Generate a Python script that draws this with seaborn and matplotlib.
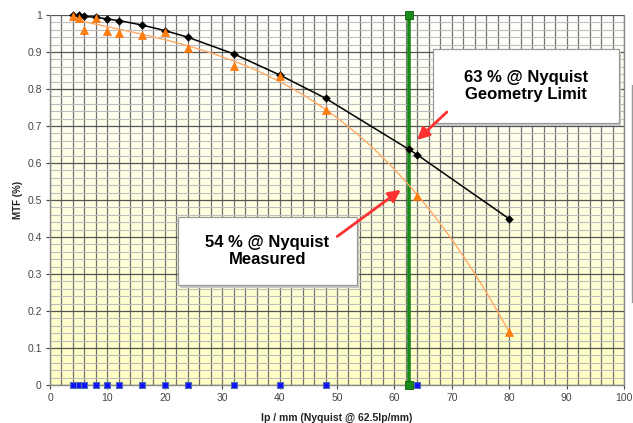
import numpy as np
import pandas as pd
import matplotlib
matplotlib.use("Agg")
import matplotlib.pyplot as plt
from matplotlib.patches import Rectangle
import seaborn as sns

# ---- data ----
geom_x = [4, 5, 6, 8, 10, 12, 16, 20, 24, 32, 40, 48, 62.5, 64, 80]
geom_y = [1.0, 1.0, 0.996, 0.994, 0.989, 0.985, 0.973, 0.958, 0.94, 0.895, 0.838, 0.775, 0.637, 0.622, 0.449]
meas_x = [4, 5, 6, 8, 10, 12, 16, 20, 24, 32, 40, 48, 64, 80]
meas_y = [0.997, 0.993, 0.96, 0.992, 0.958, 0.95, 0.946, 0.955, 0.91, 0.863, 0.835, 0.742, 0.51, 0.144]
freq_x = [4, 5, 6, 8, 10, 12, 16, 20, 24, 32, 40, 48, 64]
freq_y = [0] * len(freq_x)
nyq_x = [62.5, 62.5]
nyq_y = [0, 1]
x_ticks = list(range(0, 101, 10))
y_ticks = [0, 0.1, 0.2, 0.3, 0.4, 0.5, 0.6, 0.7, 0.8, 0.9, 1]
y_tick_labels = ["0", "0.1", "0.2", "0.3", "0.4", "0.5", "0.6", "0.7", "0.8", "0.9", "1"]
box1_text = "63 % @ Nyquist\nGeometry Limit"
box2_text = "54 % @ Nyquist\nMeasured"
x_label = "lp / mm (Nyquist @ 62.5lp/mm)"
y_label = "MTF (%)"

sns.set_theme(style="white")
plt.rcParams['font.family'] = ['Liberation Sans', 'DejaVu Sans']

fig = plt.figure(figsize=(6.33, 4.23), dpi=100)
ax = fig.add_axes([50/633, 1-385/423, (624-50)/633, (385-15)/423])

# gradient background
grad = np.linspace(0, 1, 256).reshape(-1, 1)
c_top = np.array([1.0, 1.0, 1.0])
c_bot = np.array([1.0, 1.0, 0.77])
img = c_top[None, None, :] * (1 - grad[:, :, None]) + c_bot[None, None, :] * grad[:, :, None]
ax.imshow(img, extent=[0, 100, 0, 1], aspect='auto', origin='upper', zorder=0)

# grid
for xv in np.arange(0, 101, 2):
    ax.axvline(xv, color='#727272', lw=0.9, zorder=1)
for yv in np.arange(0, 1.001, 0.02):
    major = abs(round(yv * 10) - yv * 10) < 1e-6
    ax.axhline(yv, color='#555555' if major else '#bdbdbd', lw=0.9 if major else 0.8, zorder=1)

# Nyquist line
ax.plot(nyq_x, nyq_y, color='#1a8a1a', lw=2.6, zorder=3)
sns.scatterplot(x=nyq_x, y=nyq_y, marker='s', s=28, color='#1a8a1a', edgecolor='#0b5e0b',
                linewidth=0.6, ax=ax, zorder=4, clip_on=False)

# measured trendline (polynomial fit of measured points)
coef = np.polyfit(meas_x, meas_y, 3)
tx = np.linspace(5, 80, 200)
ax.plot(tx, np.polyval(coef, tx), color='#ffaa66', lw=1.0, zorder=3)

# geometry series
geo_df = pd.DataFrame({"x": geom_x, "y": geom_y})
sns.lineplot(data=geo_df, x="x", y="y", color='black', lw=1.1, sort=False, ax=ax, zorder=5)
sns.scatterplot(data=geo_df, x="x", y="y", marker='D', s=16, color='black', edgecolor='black',
                ax=ax, zorder=6, clip_on=False)

# measured points
meas_df = pd.DataFrame({"x": meas_x, "y": meas_y})
sns.scatterplot(data=meas_df, x="x", y="y", marker='^', s=34, color='#ff7f0e', edgecolor='#ff6a00',
                linewidth=0.4, ax=ax, zorder=6, clip_on=False)

# frequency markers
sns.scatterplot(x=freq_x, y=freq_y, marker='s', s=22, color='#1010ff', edgecolor='#5070b0',
                linewidth=0.8, ax=ax, zorder=6, clip_on=False)

ax.set_xlim(0, 100)
ax.set_ylim(0, 1)
ax.set_xticks(x_ticks)
ax.set_xticklabels([str(t) for t in x_ticks])
ax.set_yticks(y_ticks)
ax.set_yticklabels(y_tick_labels)
ax.tick_params(axis='both', labelsize=7.5, colors='#444444', length=3, width=0.8, direction='out',
               left=True, bottom=True, pad=3)
ax.set_xlabel("")
ax.set_ylabel("")
fig.text(337/633, 1-418/423, x_label, ha='center', va='center', fontsize=7.5, fontweight='bold',
         color='#222222')
fig.text(18/633, 1-200/423, y_label, ha='center', va='center', rotation=90, fontsize=7,
         fontweight='bold', color='#222222')
for sp in ['left', 'bottom', 'right']:
    ax.spines[sp].set_color('#888888')
    ax.spines[sp].set_linewidth(1.0)
ax.spines['top'].set_visible(False)

# annotation boxes
def add_box(x0, y0, x1, y1, text):
    sh = Rectangle((x0 + 0.35, y0 - 0.008), x1 - x0, y1 - y0, facecolor='#c8c8c8', edgecolor='none', zorder=7)
    ax.add_patch(sh)
    r = Rectangle((x0, y0), x1 - x0, y1 - y0, facecolor='white', edgecolor='#9a9a9a', lw=0.9, zorder=8)
    ax.add_patch(r)
    ax.text((x0 + x1) / 2, (y0 + y1) / 2, text, ha='center', va='center', fontsize=12,
            fontweight='bold', color='black', zorder=9, linespacing=1.15)

add_box(66.7, 0.708, 99.1, 0.908, box1_text)
add_box(22.3, 0.27, 53.5, 0.454, box2_text)

arrow_kw = dict(arrowstyle='-|>,head_length=0.6,head_width=0.3', color='#ff3030', lw=2.0)
ax.annotate('', xy=(63.6, 0.657), xytext=(69.5, 0.743), arrowprops=arrow_kw, zorder=10)
ax.annotate('', xy=(61.5, 0.532), xytext=(49.65, 0.397), arrowprops=arrow_kw, zorder=10)

# slide edge line on the right
fig.add_artist(plt.Line2D([632/633, 632/633], [1-85/423, 1-302/423], color='#999999', lw=1.0))

fig.savefig("out.png", dpi=100)
